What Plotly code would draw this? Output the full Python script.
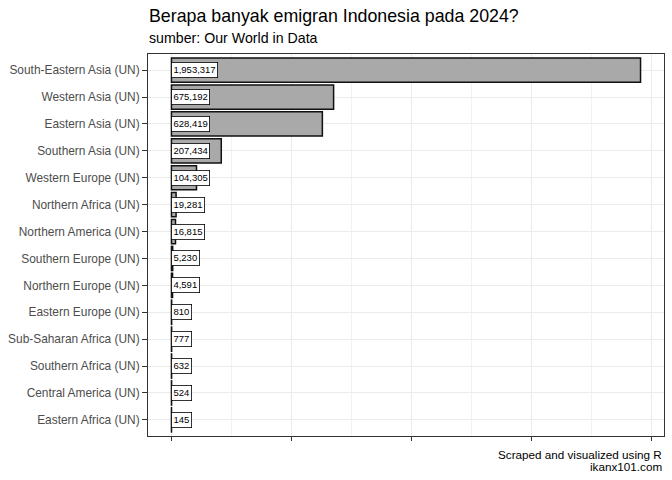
import plotly.graph_objects as go

regions = ["South-Eastern Asia (UN)", "Western Asia (UN)", "Eastern Asia (UN)", "Southern Asia (UN)",
           "Western Europe (UN)", "Northern Africa (UN)", "Northern America (UN)", "Southern Europe (UN)",
           "Northern Europe (UN)", "Eastern Europe (UN)", "Sub-Saharan Africa (UN)", "Southern Africa (UN)",
           "Central America (UN)", "Eastern Africa (UN)"]
emigrants = [1953317, 675192, 628419, 207434, 104305, 19281, 16815, 5230, 4591, 810, 777, 632, 524, 145]
x_ticks = [0, 500000, 1000000, 1500000, 2000000]
x_minor = [250000, 750000, 1250000, 1750000]

font = "Liberation Sans, Arial, sans-serif"

fig = go.Figure()
fig.add_trace(go.Bar(
    x=emigrants, y=regions, orientation="h", width=0.9,
    marker=dict(color="#A9A9A9", line=dict(color="#111111", width=1.5)),
    hoverinfo="x+y", showlegend=False,
))

for r, v in zip(regions, emigrants):
    fig.add_annotation(x=0, y=r, xref="x", yref="y", text=f"{v:,}", showarrow=False,
                       xanchor="left", yanchor="middle", xshift=0,
                       font=dict(family=font, size=9.5, color="black"),
                       bgcolor="white", bordercolor="black", borderwidth=0.8, borderpad=1.6)

fig.add_annotation(x=0, y=1, xref="paper", yref="paper", text="Berapa banyak emigran Indonesia pada 2024?",
                   showarrow=False, xanchor="left", yanchor="middle", yshift=38, xshift=-1,
                   font=dict(family=font, size=17.8, color="black"))
fig.add_annotation(x=0, y=1, xref="paper", yref="paper", text="sumber: Our World in Data",
                   showarrow=False, xanchor="left", yanchor="middle", yshift=16, xshift=-1,
                   font=dict(family=font, size=14.2, color="black"))
fig.add_annotation(x=1, y=0, xref="paper", yref="paper", text="Scraped and visualized using R",
                   showarrow=False, xanchor="right", yanchor="middle", yshift=-18, align="right",
                   font=dict(family=font, size=11.7, color="black"))
fig.add_annotation(x=1, y=0, xref="paper", yref="paper", text="ikanx101.com",
                   showarrow=False, xanchor="right", yanchor="middle", yshift=-30, align="right",
                   font=dict(family=font, size=11.7, color="black"))

fig.update_layout(
    width=672, height=480,
    margin=dict(l=148, r=8, t=54, b=44),
    paper_bgcolor="white", plot_bgcolor="white",
    font=dict(family=font),
    bargap=0.1,
)
fig.update_xaxes(
    range=[-97666, 2050983], tickvals=x_ticks, ticktext=["" for _ in x_ticks],
    showgrid=True, gridcolor="#EBEBEB", gridwidth=1.1,
    minor=dict(tickvals=x_minor, showgrid=True, gridcolor="#F2F2F2", gridwidth=0.6, ticks=""),
    ticks="outside", ticklen=4, tickcolor="#333333", tickwidth=1,
    zeroline=False, showline=True, linecolor="#333333", linewidth=1, mirror=True,
)
fig.update_yaxes(
    categoryorder="array", categoryarray=regions[::-1], range=[-0.6, 13.6],
    showgrid=True, gridcolor="#EBEBEB", gridwidth=1.1,
    ticks="outside", ticklen=5, tickcolor="#333333", tickwidth=1,
    tickfont=dict(family=font, size=11.9, color="#4D4D4D"),
    showline=True, linecolor="#333333", linewidth=1, mirror=True,
)

fig.write_html("out.html", config={"displayModeBar": False},
               post_script="document.body.style.margin='0';document.body.style.overflow='hidden';")
